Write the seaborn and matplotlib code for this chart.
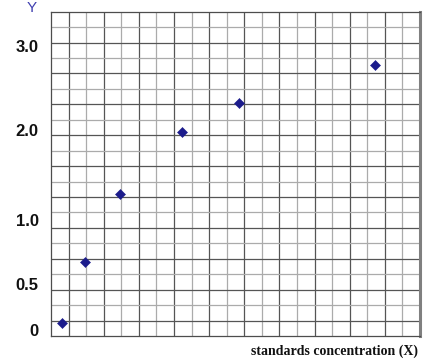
import matplotlib
matplotlib.use("Agg")
import matplotlib.pyplot as plt
import seaborn as sns
import pandas as pd

# Data (in grid-cell units as drawn on the reference)
conc_x = [0.61, 1.94, 3.94, 7.43, 10.70, 18.42]
signal_y = [0.86, 4.82, 9.20, 13.20, 15.11, 17.53]

ytick_pos = [0.28, 3.25, 7.42, 13.27, 18.66]
ytick_labels = ["0", "0.5", "1.0", "2.0", "3.0"]

x_label = "standards concentration (X)"
y_label = "Y"

df = pd.DataFrame({"x": conc_x, "y": signal_y})

sns.set_theme(style="white")
plt.rcParams["font.family"] = ["Liberation Sans", "DejaVu Sans"]

fig = plt.figure(figsize=(4.23, 3.60), dpi=100)
ax = fig.add_axes([51 / 423, 24 / 360, 369 / 423, 324.3 / 360])

ncols, nrows = 21, 21
ax.set_xlim(0, ncols)
ax.set_ylim(0, nrows)

ax.set_xticks([i for i in range(1, ncols) if i % 2 == 1])
ax.set_xticks([i for i in range(1, ncols) if i % 2 == 0], minor=True)
ax.set_yticks([i for i in range(1, nrows) if i % 2 == 1])
ax.set_yticks([i for i in range(1, nrows) if i % 2 == 0], minor=True)
ax.grid(which="major", color="#555555", linewidth=0.9)
ax.grid(which="minor", color="#ababab", linewidth=0.9)
ax.tick_params(which="both", length=0, labelbottom=False, labelleft=False)
ax.set_axisbelow(True)

for side in ["left", "top", "bottom"]:
    ax.spines[side].set_color("#4d4d4d")
    ax.spines[side].set_linewidth(0.9)
ax.spines["right"].set_color("#808080")
ax.spines["right"].set_linewidth(2.2)

sns.scatterplot(data=df, x="x", y="y", marker="D", s=26, color="#1c1c8c",
                edgecolor="#1c1c8c", linewidth=0.4, ax=ax, zorder=5, clip_on=False)
ax.set_xlabel("")
ax.set_ylabel("")

for pos, lab in zip(ytick_pos, ytick_labels):
    ax.text(-12.5 / 369, pos, lab, transform=ax.get_yaxis_transform(),
            ha="right", va="center", fontsize=12, fontweight="bold",
            color="#111111")

fig.text(32 / 423, 1 - 1 / 360, y_label, ha="center", va="top",
         fontsize=11, color="#4040b0")
fig.text(418 / 423, 1 - 351 / 360, x_label, ha="right", va="center",
         fontsize=10, fontweight="bold", family=["Liberation Serif", "DejaVu Serif"],
         color="#111111")

fig.savefig("out.png", dpi=100, facecolor="white")
